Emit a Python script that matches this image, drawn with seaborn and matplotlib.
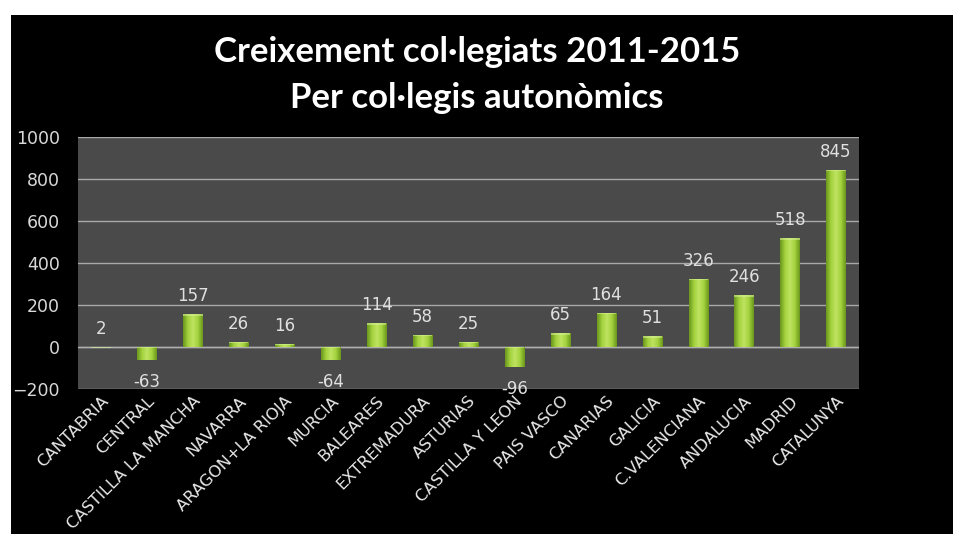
import numpy as np
import pandas as pd
import seaborn as sns
import matplotlib.pyplot as plt
from matplotlib.patches import Rectangle
from matplotlib.colors import LinearSegmentedColormap

regions = ["CANTABRIA", "CENTRAL", "CASTILLA LA MANCHA", "NAVARRA", "ARAGON+LA RIOJA",
           "MURCIA", "BALEARES", "EXTREMADURA", "ASTURIAS", "CASTILLA Y LEON",
           "PAIS VASCO", "CANARIAS", "GALICIA", "C.VALENCIANA", "ANDALUCIA",
           "MADRID", "CATALUNYA"]
growth = [2, -63, 157, 26, 16, -64, 114, 58, 25, -96, 65, 164, 51, 326, 246, 518, 845]
y_ticks = [-200, 0, 200, 400, 600, 800, 1000]

df = pd.DataFrame({"region": regions, "growth": growth})

sns.set_style("dark")
plt.rcParams["font.family"] = ["Lato", "DejaVu Sans"]

fig = plt.figure(figsize=(9.54, 5.34), dpi=100, facecolor="white")
# black slide background
fig.patches.append(Rectangle((11 / 954, 0), 1, 1 - 15 / 534, transform=fig.transFigure,
                             facecolor="black", edgecolor="none", zorder=-10))

ax = fig.add_axes([78 / 954, 1 - 389 / 534, 781 / 954, 252 / 534])
ax.set_facecolor("#4a4a4a")

sns.barplot(data=df, x="region", y="growth", color="#9bc93a", width=0.42, ax=ax,
            saturation=1, linewidth=0, edgecolor="none", zorder=3)

# cylinder-like shading on bars
cmap = LinearSegmentedColormap.from_list("g", ["#6a961c", "#a4d23e", "#bfe361", "#a4d23e", "#6a961c"])
grad = np.linspace(0, 1, 64).reshape(1, -1)
for bar in list(ax.patches):
    x0, w = bar.get_x(), bar.get_width()
    y0, h = bar.get_y(), bar.get_height()
    im = ax.imshow(grad, cmap=cmap, aspect="auto", extent=[x0, x0 + w, y0, y0 + h],
                   zorder=4)
    im.set_clip_path(bar)
    top = max(y0, y0 + h)
    ax.add_patch(Rectangle((x0, top - 7), w, 7, facecolor="#d8f29a", edgecolor="none",
                           alpha=0.55, zorder=5))

ax.set_xlim(-0.5, len(regions) - 0.5)
ax.set_ylim(-200, 1000)
ax.set_yticks(y_ticks)
ax.grid(axis="y", color="#a8a8a8", linewidth=1, zorder=1)
ax.grid(axis="x", visible=False)
ax.axhline(0, color="#b0b0b0", linewidth=1, zorder=2)
for s in ax.spines.values():
    s.set_visible(False)

ax.set_xlabel("")
ax.set_ylabel("")
ax.tick_params(axis="y", colors="#d8d8d8", labelsize=12.5, length=0, pad=13)
ax.tick_params(axis="x", colors="#e8e8e8", labelsize=11.8, length=0, pad=3)
plt.setp(ax.get_xticklabels(), rotation=45, ha="right", rotation_mode="anchor",
         fontfamily=["DejaVu Sans"])
plt.setp(ax.get_yticklabels(), fontfamily=["DejaVu Sans"])

for i, v in enumerate(growth):
    if v >= 0:
        ax.text(i, v + 85, str(v), ha="center", va="center", color="#e0e0e0", fontsize=12,
                fontfamily=["DejaVu Sans"], zorder=6)
    else:
        ax.text(i, v - 105, str(v), ha="center", va="center", color="#e0e0e0", fontsize=12,
                fontfamily=["DejaVu Sans"], zorder=6)

fig.text(0.5, 1 - 52 / 534, "Creixement col·legiats 2011-2015", ha="center", va="center",
         color="white", fontsize=25, fontweight="bold")
fig.text(0.5, 1 - 98 / 534, "Per col·legis autonòmics", ha="center", va="center",
         color="white", fontsize=25, fontweight="bold")

fig.savefig("out.png", dpi=100, facecolor="white")
